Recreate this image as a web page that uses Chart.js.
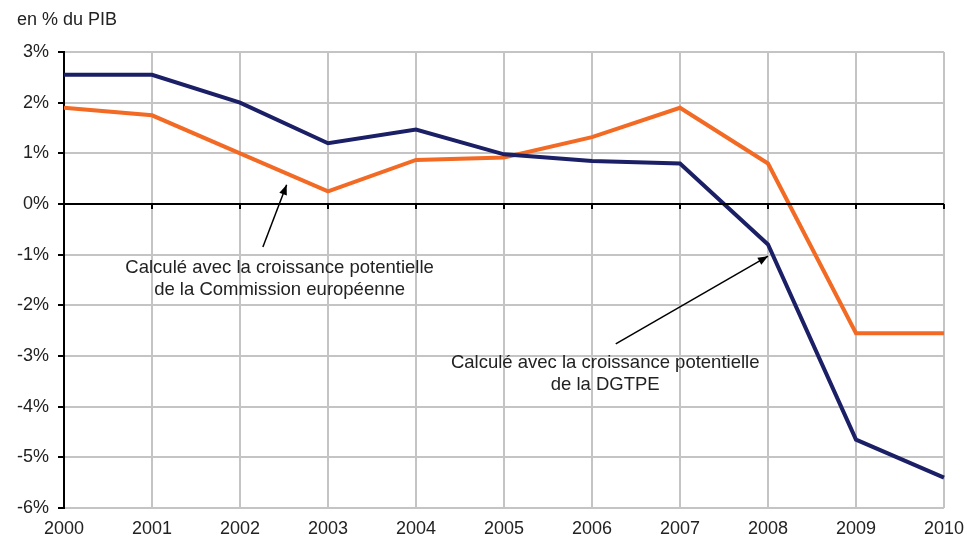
<!DOCTYPE html>
<html>
<head>
<meta charset="utf-8">
<script src="https://cdn.jsdelivr.net/npm/chart.js@4.4.1/dist/chart.umd.min.js"></script>
<style>
  html, body { margin: 0; padding: 0; background: #fff; }
  #wrap { width: 967px; height: 537px; position: relative; }
</style>
</head>
<body>
<div id="wrap"><canvas id="chart"></canvas></div>
<script>
const years = ["2000", "2001", "2002", "2003", "2004", "2005", "2006", "2007", "2008", "2009", "2010"];
const dgtpe = [2.55, 2.55, 2.0, 1.2, 1.47, 0.98, 0.85, 0.8, -0.8, -4.65, -5.4];
const commission = [1.9, 1.75, 1.0, 0.25, 0.87, 0.92, 1.32, 1.9, 0.8, -2.55, -2.55];
const yTicks = [3, 2, 1, 0, -1, -2, -3, -4, -5, -6];

// annotations, in data coordinates (category index, % value)
const notes = [
    { lines: ["Calculé avec la croissance potentielle", "de la Commission européenne"], x: 2.45, y: -1.26,
      from: [2.26, -0.85], to: [2.53, 0.38] },
    { lines: ["Calculé avec la croissance potentielle", "de la DGTPE"], x: 6.15, y: -3.13,
      from: [6.27, -2.76], to: [8.0, -1.03] }
];

const FONT = "'Liberation Sans', Arial, sans-serif";

const extras = {
    id: 'extras',
    afterDatasetsDraw(chart) {
        const ctx = chart.ctx;
        const xs = chart.scales.x, ys = chart.scales.y;
        const px = v => xs.left + (xs.right - xs.left) * v / (years.length - 1);
        ctx.save();
        // zero line with ticks
        const y0 = ys.getPixelForValue(0);
        ctx.strokeStyle = '#000';
        ctx.lineWidth = 2;
        ctx.beginPath();
        ctx.moveTo(xs.left, y0);
        ctx.lineTo(xs.right, y0);
        years.forEach((_, i) => {
            const x = xs.getPixelForValue(i);
            ctx.moveTo(x, y0);
            ctx.lineTo(x, y0 + 5);
        });
        ctx.stroke();
        // title
        ctx.fillStyle = '#222';
        ctx.font = '18px ' + FONT;
        ctx.textAlign = 'left';
        ctx.textBaseline = 'middle';
        ctx.fillText('en % du PIB', 17, 20);
        // annotations
        notes.forEach(n => {
            const fx = px(n.from[0]), fy = ys.getPixelForValue(n.from[1]);
            const tx = px(n.to[0]), ty = ys.getPixelForValue(n.to[1]);
            ctx.strokeStyle = '#000';
            ctx.lineWidth = 1.5;
            ctx.beginPath();
            ctx.moveTo(fx, fy);
            ctx.lineTo(tx, ty);
            ctx.stroke();
            const a = Math.atan2(ty - fy, tx - fx);
            ctx.fillStyle = '#000';
            ctx.beginPath();
            ctx.moveTo(tx, ty);
            ctx.lineTo(tx - 10 * Math.cos(a) + 4 * Math.sin(a), ty - 10 * Math.sin(a) - 4 * Math.cos(a));
            ctx.lineTo(tx - 10 * Math.cos(a) - 4 * Math.sin(a), ty - 10 * Math.sin(a) + 4 * Math.cos(a));
            ctx.closePath();
            ctx.fill();
            ctx.fillStyle = '#222';
            ctx.font = '18.5px ' + FONT;
            ctx.textAlign = 'center';
            const cx = px(n.x), cy = ys.getPixelForValue(n.y);
            n.lines.forEach((t, i) => ctx.fillText(t, cx, cy + i * 22));
        });
        ctx.restore();
    }
};

new Chart(document.getElementById('chart'), {
    type: 'line',
    data: {
        labels: years,
        datasets: [
            {
                label: 'DGTPE',
                data: dgtpe,
                borderColor: '#1b1f66',
                borderWidth: 4,
                pointRadius: 0,
                tension: 0,
                fill: false
            },
            {
                label: 'Commission européenne',
                data: commission,
                borderColor: '#f26a24',
                borderWidth: 4,
                pointRadius: 0,
                tension: 0,
                fill: false
            }
        ]
    },
    options: {
        responsive: true,
        maintainAspectRatio: false,
        animation: false,
        layout: { padding: { top: 52, right: 23, left: 0, bottom: 0 } },
        plugins: {
            legend: { display: false },
            tooltip: { enabled: false }
        },
        scales: {
            x: {
                type: 'category',
                offset: false,
                grid: { color: '#c4c4c4', lineWidth: 2, drawTicks: false },
                border: { display: false },
                ticks: { color: '#222', font: { family: FONT, size: 18 }, padding: 10, maxRotation: 0, autoSkip: false },
                afterFit(scale) {
                    scale.height = 29;
                    scale.paddingLeft = 0;
                    scale.paddingRight = 0;
                }
            },
            y: {
                min: -6,
                max: 3,
                afterBuildTicks(scale) { scale.ticks = yTicks.map(v => ({ value: v })); },
                grid: { color: '#c4c4c4', lineWidth: 2, tickColor: '#000', tickLength: 6 },
                border: { color: '#000', width: 2 },
                ticks: {
                    color: '#222',
                    font: { family: FONT, size: 18 },
                    padding: 9,
                    callback: v => v + '%'
                },
                afterFit(scale) { scale.width = 64; }
            }
        }
    },
    plugins: [extras]
});
</script>
</body>
</html>
